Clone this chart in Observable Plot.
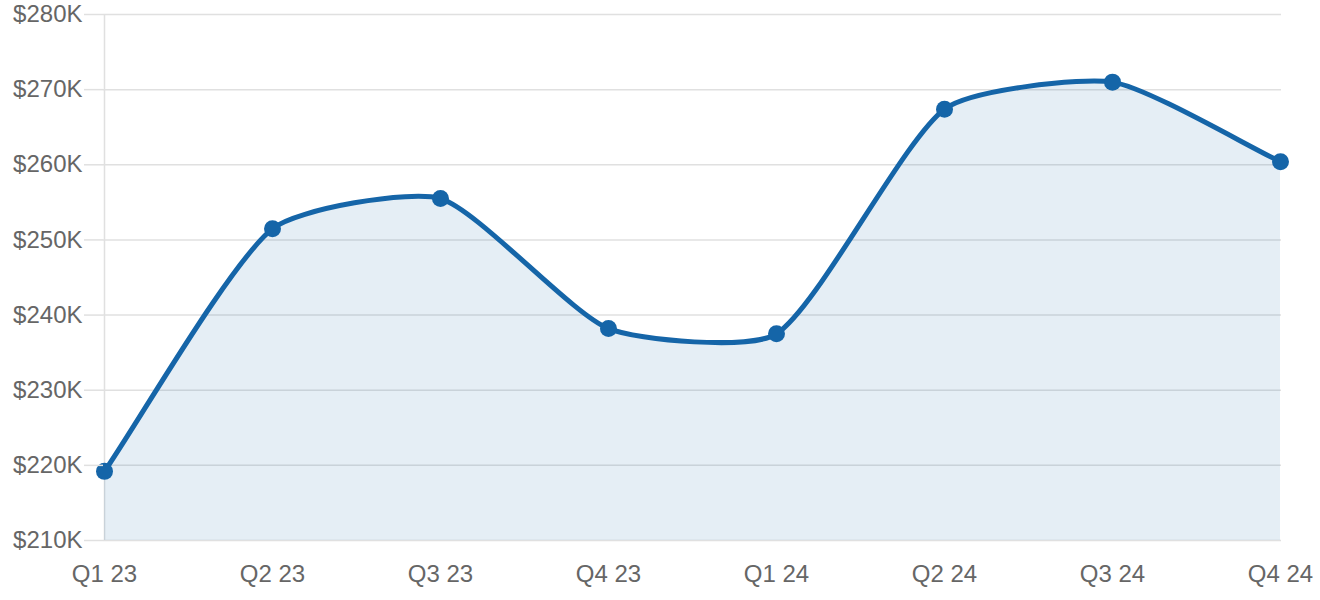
<!DOCTYPE html>
<html>
<head>
<meta charset="utf-8">
<script src="https://cdn.jsdelivr.net/npm/d3@7"></script>
<script src="https://cdn.jsdelivr.net/npm/@observablehq/plot@0.6"></script>
<style>
  html, body { margin: 0; padding: 0; background: #fff; }
  #chart { width: 1320px; height: 600px; }
</style>
</head>
<body>
<div id="chart"></div>
<script>
const quarters = ["Q1 23", "Q2 23", "Q3 23", "Q4 23", "Q1 24", "Q2 24", "Q3 24", "Q4 24"];
const prices = [219.2, 251.5, 255.5, 238.2, 237.5, 267.4, 271.0, 260.4];
const yTicks = [210, 220, 230, 240, 250, 260, 270, 280];

const data = quarters.map((q, i) => ({ q, v: prices[i] }));
const fmt = d => `$${d}K`;

// Tension-based spline (similar to Chart.js line tension)
function tensionCurve(t) {
  return function (context) {
    return {
      _line: NaN,
      _pts: [],
      areaStart() { this._line = 0; },
      areaEnd() { this._line = NaN; },
      lineStart() { this._pts = []; },
      point(x, y) { this._pts.push([+x, +y]); },
      lineEnd() {
        const p = this._pts, n = p.length;
        if (n) {
          if (this._line) context.lineTo(p[0][0], p[0][1]); else context.moveTo(p[0][0], p[0][1]);
          const cp = p.map((c, i) => {
            const prev = p[i - 1] || c, next = p[i + 1] || c;
            const d01 = Math.hypot(c[0] - prev[0], c[1] - prev[1]);
            const d12 = Math.hypot(next[0] - c[0], next[1] - c[1]);
            let s01 = d01 / (d01 + d12), s12 = d12 / (d01 + d12);
            if (!isFinite(s01)) s01 = 0;
            if (!isFinite(s12)) s12 = 0;
            const fa = t * s01, fb = t * s12;
            return {
              px: c[0] - fa * (next[0] - prev[0]), py: c[1] - fa * (next[1] - prev[1]),
              nx: c[0] + fb * (next[0] - prev[0]), ny: c[1] + fb * (next[1] - prev[1])
            };
          });
          for (let i = 1; i < n; i++) {
            context.bezierCurveTo(cp[i - 1].nx, cp[i - 1].ny, cp[i].px, cp[i].py, p[i][0], p[i][1]);
          }
        }
        if (this._line || (this._line !== 0 && n === 1)) context.closePath();
        this._line = 1 - this._line;
      }
    };
  };
}
const curve = tensionCurve(0.2);

const chart = Plot.plot({
  width: 1320,
  height: 600,
  marginLeft: 103,
  marginRight: 39,
  marginTop: 14,
  marginBottom: 60,
  style: { fontFamily: "'Liberation Sans', Arial, sans-serif", fontSize: "24px", background: "#fff" },
  x: { type: "point", domain: quarters, padding: 0 },
  y: { domain: [210, 280] },
  marks: [
    Plot.gridY(yTicks, { stroke: "#e0e0e0", strokeOpacity: 1, strokeWidth: 1.5 }),
    Plot.ruleX([quarters[0]], { stroke: "#e0e0e0", strokeWidth: 1.5 }),
    Plot.areaY(data, { x: "q", y1: 210, y2: "v", curve, fill: "#1565a8", fillOpacity: 0.11 }),
    Plot.lineY(data, { x: "q", y: "v", curve, stroke: "#1565a8", strokeWidth: 5 }),
    Plot.dot(data, { x: "q", y: "v", r: 8.5, fill: "#1565a8", stroke: "none" }),
    Plot.axisY(yTicks, { tickFormat: fmt, tickSize: 19, tickPadding: 2, stroke: "#e0e0e0", strokeWidth: 1.5, fill: "#666", fontSize: 24, label: null }),
    Plot.axisX(quarters, { tickSize: 0, tickPadding: 24, fill: "#666", fontSize: 24, label: null })
  ]
});
document.getElementById("chart").appendChild(chart);
</script>
</body>
</html>
